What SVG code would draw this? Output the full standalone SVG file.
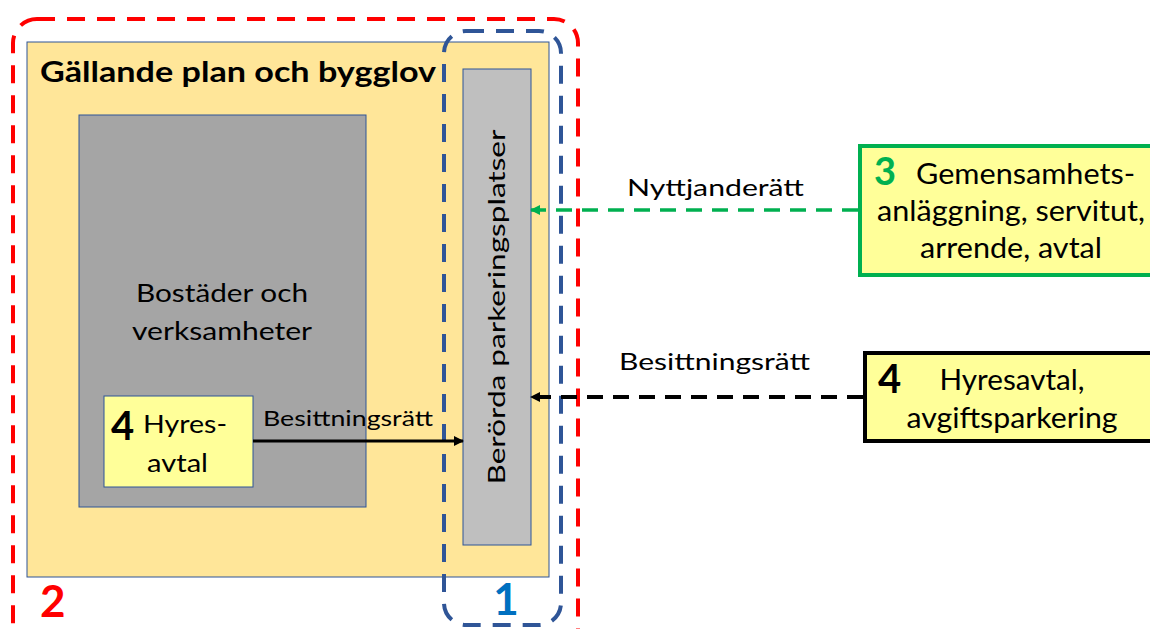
<svg xmlns="http://www.w3.org/2000/svg" width="1150" height="629" viewBox="0 0 1150 629">
  <style>
    .t { font-family: Lato, "Liberation Sans", sans-serif; fill: #000; }
    .b { font-weight: bold; }
    .thin { stroke: #2F5597; stroke-width: 1; }
    .yel { fill: #FFFF99; }
  </style>
  <defs>
    <marker id="arrK" viewBox="0 0 10 10" refX="9" refY="5" markerWidth="10" markerHeight="10" markerUnits="userSpaceOnUse" orient="auto">
      <path d="M0,0 L10,5 L0,10 z" fill="#000"/>
    </marker>
    <marker id="arrG" viewBox="0 0 10 10" refX="9" refY="5" markerWidth="10" markerHeight="10" markerUnits="userSpaceOnUse" orient="auto">
      <path d="M0,0 L10,5 L0,10 z" fill="#00B050"/>
    </marker>
  </defs>

  <rect width="1150" height="629" fill="#fff"/>

  <!-- plan area -->
  <g id="plan">
    <rect x="27" y="42" width="522" height="535" fill="#FFE699" class="thin"/>
    <text class="t b" x="40" y="82" font-size="29" textLength="396" lengthAdjust="spacingAndGlyphs">Gällande plan och bygglov</text>
  </g>

  <g id="bostader">
    <rect x="79" y="115" width="287" height="392" fill="#A5A5A5" class="thin"/>
    <text class="t" x="222" y="302" font-size="25" text-anchor="middle" textLength="172" lengthAdjust="spacingAndGlyphs">Bostäder och</text>
    <text class="t" x="222" y="340" font-size="25" text-anchor="middle" textLength="180" lengthAdjust="spacingAndGlyphs">verksamheter</text>
  </g>

  <g id="hyresavtal-inre">
    <rect x="104" y="396" width="149" height="91" class="yel thin"/>
    <text class="t b" x="111" y="440" font-size="40">4</text>
    <text class="t" x="143" y="433" font-size="25" textLength="84" lengthAdjust="spacingAndGlyphs">Hyres-</text>
    <text class="t" x="147" y="472" font-size="25" textLength="61" lengthAdjust="spacingAndGlyphs">avtal</text>
  </g>

  <g id="parkering">
    <rect x="463" y="69" width="68" height="476" fill="#BFBFBF" class="thin"/>
    <text class="t" transform="translate(505,307) rotate(-90)" x="0" y="0" font-size="24" text-anchor="middle" textLength="355" lengthAdjust="spacingAndGlyphs">Berörda parkeringsplatser</text>
  </g>

  <!-- dashed boundaries -->
  <g id="grans-2">
    <rect x="13" y="19" width="565" height="650" rx="24" fill="none" stroke="#FF0000" stroke-width="4" stroke-dasharray="18 12"/>
    <text class="t b" x="40" y="617" font-size="44" fill="#FF0000" style="fill:#FF0000">2</text>
  </g>
  <g id="grans-1">
    <rect x="444" y="31" width="117" height="594" rx="22" fill="none" stroke="#2F5597" stroke-width="4" stroke-dasharray="18 12"/>
    <text class="t b" x="506" y="615" font-size="44" text-anchor="middle" style="fill:#0070C0">1</text>
  </g>

  <g id="gemensamhet">
    <rect x="860" y="146" width="300" height="129" class="yel" stroke="#00B050" stroke-width="4"/>
    <text class="t b" x="874" y="185" font-size="38" style="fill:#00B050">3</text>
    <text class="t" x="916" y="184" font-size="28" textLength="219" lengthAdjust="spacingAndGlyphs">Gemensamhets-</text>
    <text class="t" x="1011" y="221" font-size="28" text-anchor="middle" textLength="268" lengthAdjust="spacingAndGlyphs">anläggning, servitut,</text>
    <text class="t" x="1011" y="258" font-size="28" text-anchor="middle" textLength="182" lengthAdjust="spacingAndGlyphs">arrende, avtal</text>
  </g>

  <g id="hyresavtal-yttre">
    <rect x="865" y="353" width="300" height="88" class="yel" stroke="#000" stroke-width="4"/>
    <text class="t b" x="878" y="393" font-size="40">4</text>
    <text class="t" x="1012" y="390" font-size="28" text-anchor="middle" textLength="145" lengthAdjust="spacingAndGlyphs">Hyresavtal,</text>
    <text class="t" x="1012" y="428" font-size="28" text-anchor="middle" textLength="211" lengthAdjust="spacingAndGlyphs">avgiftsparkering</text>
  </g>

  <!-- connectors -->
  <g id="connectors">
    <line x1="253" y1="441" x2="463" y2="441" stroke="#000" stroke-width="3" marker-end="url(#arrK)"/>
    <text class="t" x="263" y="426" font-size="21" textLength="170" lengthAdjust="spacingAndGlyphs">Besittningsrätt</text>

    <line x1="858" y1="210" x2="531" y2="210" stroke="#00B050" stroke-width="3.5" stroke-dasharray="16 10" marker-end="url(#arrG)"/>
    <text class="t" x="627" y="196" font-size="23" textLength="177" lengthAdjust="spacingAndGlyphs">Nyttjanderätt</text>

    <line x1="863" y1="397" x2="531" y2="397" stroke="#000" stroke-width="4" stroke-dasharray="16 10" marker-end="url(#arrK)"/>
    <text class="t" x="619" y="370" font-size="23" textLength="191" lengthAdjust="spacingAndGlyphs">Besittningsrätt</text>
  </g>
</svg>
